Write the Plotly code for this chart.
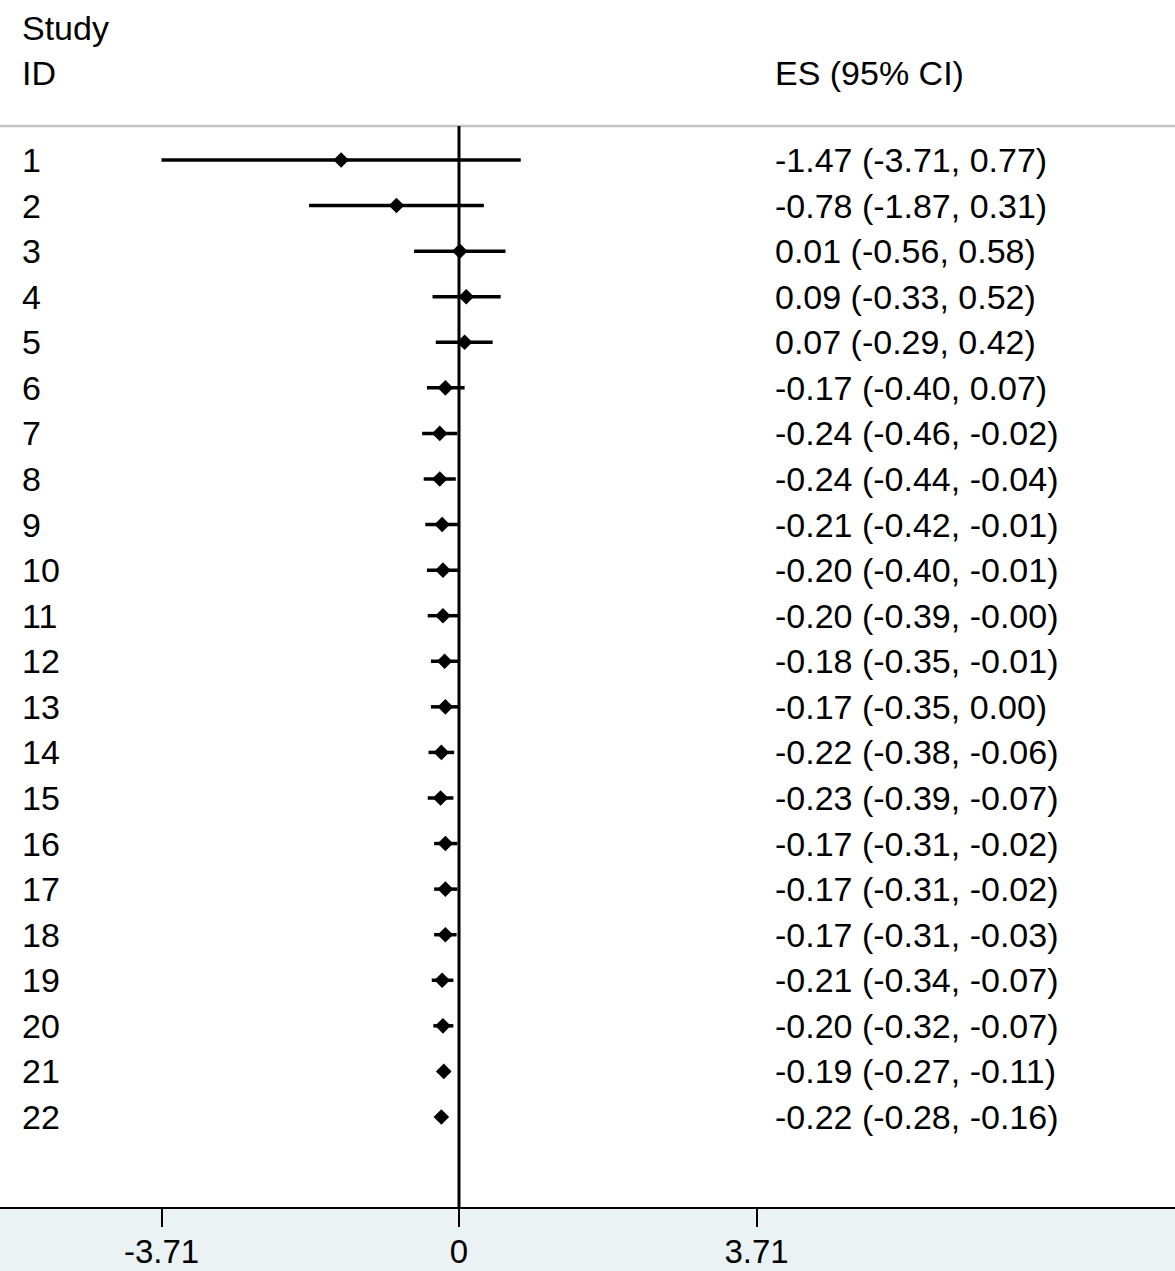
import plotly.graph_objects as go

study_ids = [str(i) for i in range(1, 23)]
es = [-1.47, -0.78, 0.01, 0.09, 0.07, -0.17, -0.24, -0.24, -0.21, -0.20, -0.20,
      -0.18, -0.17, -0.22, -0.23, -0.17, -0.17, -0.17, -0.21, -0.20, -0.19, -0.22]
ci_low = [-3.71, -1.87, -0.56, -0.33, -0.29, -0.40, -0.46, -0.44, -0.42, -0.40, -0.39,
          -0.35, -0.35, -0.38, -0.39, -0.31, -0.31, -0.31, -0.34, -0.32, -0.27, -0.28]
ci_high = [0.77, 0.31, 0.58, 0.52, 0.42, 0.07, -0.02, -0.04, -0.01, -0.01, -0.0,
           -0.01, 0.00, -0.06, -0.07, -0.02, -0.02, -0.03, -0.07, -0.07, -0.11, -0.16]
tick_vals = [-3.71, 0, 3.71]
tick_text = ["-3.71", "0", "3.71"]

W, H = 1175, 1271
FONT = "Liberation Sans, Arial, Helvetica, sans-serif"
FS = 34

# layout geometry (pixels)
x0_px = 459.0
px_per_unit = 297.5 / 3.71
row1_px = 160.0
row_step = 45.57
axis_px = 1207.0

def px_to_x(p):
    return (p - x0_px) / px_per_unit

def px_to_row(p):
    return 1 + (p - row1_px) / row_step

rows = list(range(1, len(es) + 1))

fig = go.Figure()

# CI lines
lx, ly = [], []
for r, lo, hi in zip(rows, ci_low, ci_high):
    lx += [lo, hi, None]
    ly += [r, r, None]
fig.add_trace(go.Scatter(x=lx, y=ly, mode="lines",
                         line=dict(color="black", width=3.5),
                         hoverinfo="skip", showlegend=False))
# point estimates
fig.add_trace(go.Scatter(x=es, y=rows, mode="markers",
                         marker=dict(symbol="diamond", size=12, color="black",
                                     line=dict(width=0)),
                         hoverinfo="skip", showlegend=False))

top_line_row = px_to_row(126)
bottom_row = px_to_row(axis_px)

shapes = [
    dict(type="line", xref="paper", yref="y", x0=0, x1=1,
         y0=top_line_row, y1=top_line_row,
         line=dict(color="#c4c4c4", width=2.5), layer="below"),
    dict(type="line", xref="x", yref="y", x0=0, x1=0,
         y0=top_line_row, y1=bottom_row,
         line=dict(color="black", width=3), layer="below"),
]

annotations = []
for r, sid, e, lo, hi in zip(rows, study_ids, es, ci_low, ci_high):
    annotations.append(dict(xref="paper", yref="y", x=20 / W, y=r, text=sid,
                            xanchor="left", yanchor="middle", showarrow=False,
                            font=dict(family=FONT, size=FS, color="black")))
    annotations.append(dict(xref="paper", yref="y", x=773 / W, y=r,
                            text=f"{e:.2f} ({lo:.2f}, {hi:.2f})",
                            xanchor="left", yanchor="middle", showarrow=False,
                            font=dict(family=FONT, size=FS, color="black")))
for txt, p in [("Study", 28), ("ID", 73)]:
    annotations.append(dict(xref="paper", yref="y", x=20 / W, y=px_to_row(p), text=txt,
                            xanchor="left", yanchor="middle", showarrow=False,
                            font=dict(family=FONT, size=FS, color="black")))
annotations.append(dict(xref="paper", yref="y", x=773 / W, y=px_to_row(73),
                        text="ES (95% CI)", xanchor="left", yanchor="middle",
                        showarrow=False,
                        font=dict(family=FONT, size=FS, color="black")))

fig.update_layout(
    width=W, height=H,
    margin=dict(l=0, r=0, t=0, b=H - axis_px, pad=0, autoexpand=False),
    paper_bgcolor="#eaf2f3",
    plot_bgcolor="white",
    showlegend=False,
    shapes=shapes,
    annotations=annotations,
    xaxis=dict(range=[px_to_x(0), px_to_x(W)], showgrid=False, zeroline=False,
               showline=True, linecolor="black", linewidth=2,
               ticks="outside", ticklen=18, tickwidth=2, tickcolor="black",
               tickvals=tick_vals, ticktext=tick_text,
               ticklabelstandoff=-4, automargin=False,
               tickfont=dict(family=FONT, size=33, color="black"),
               fixedrange=True),
    yaxis=dict(range=[bottom_row, px_to_row(0)], visible=False, fixedrange=True,
               automargin=False),
)

fig.write_html("out.html")
